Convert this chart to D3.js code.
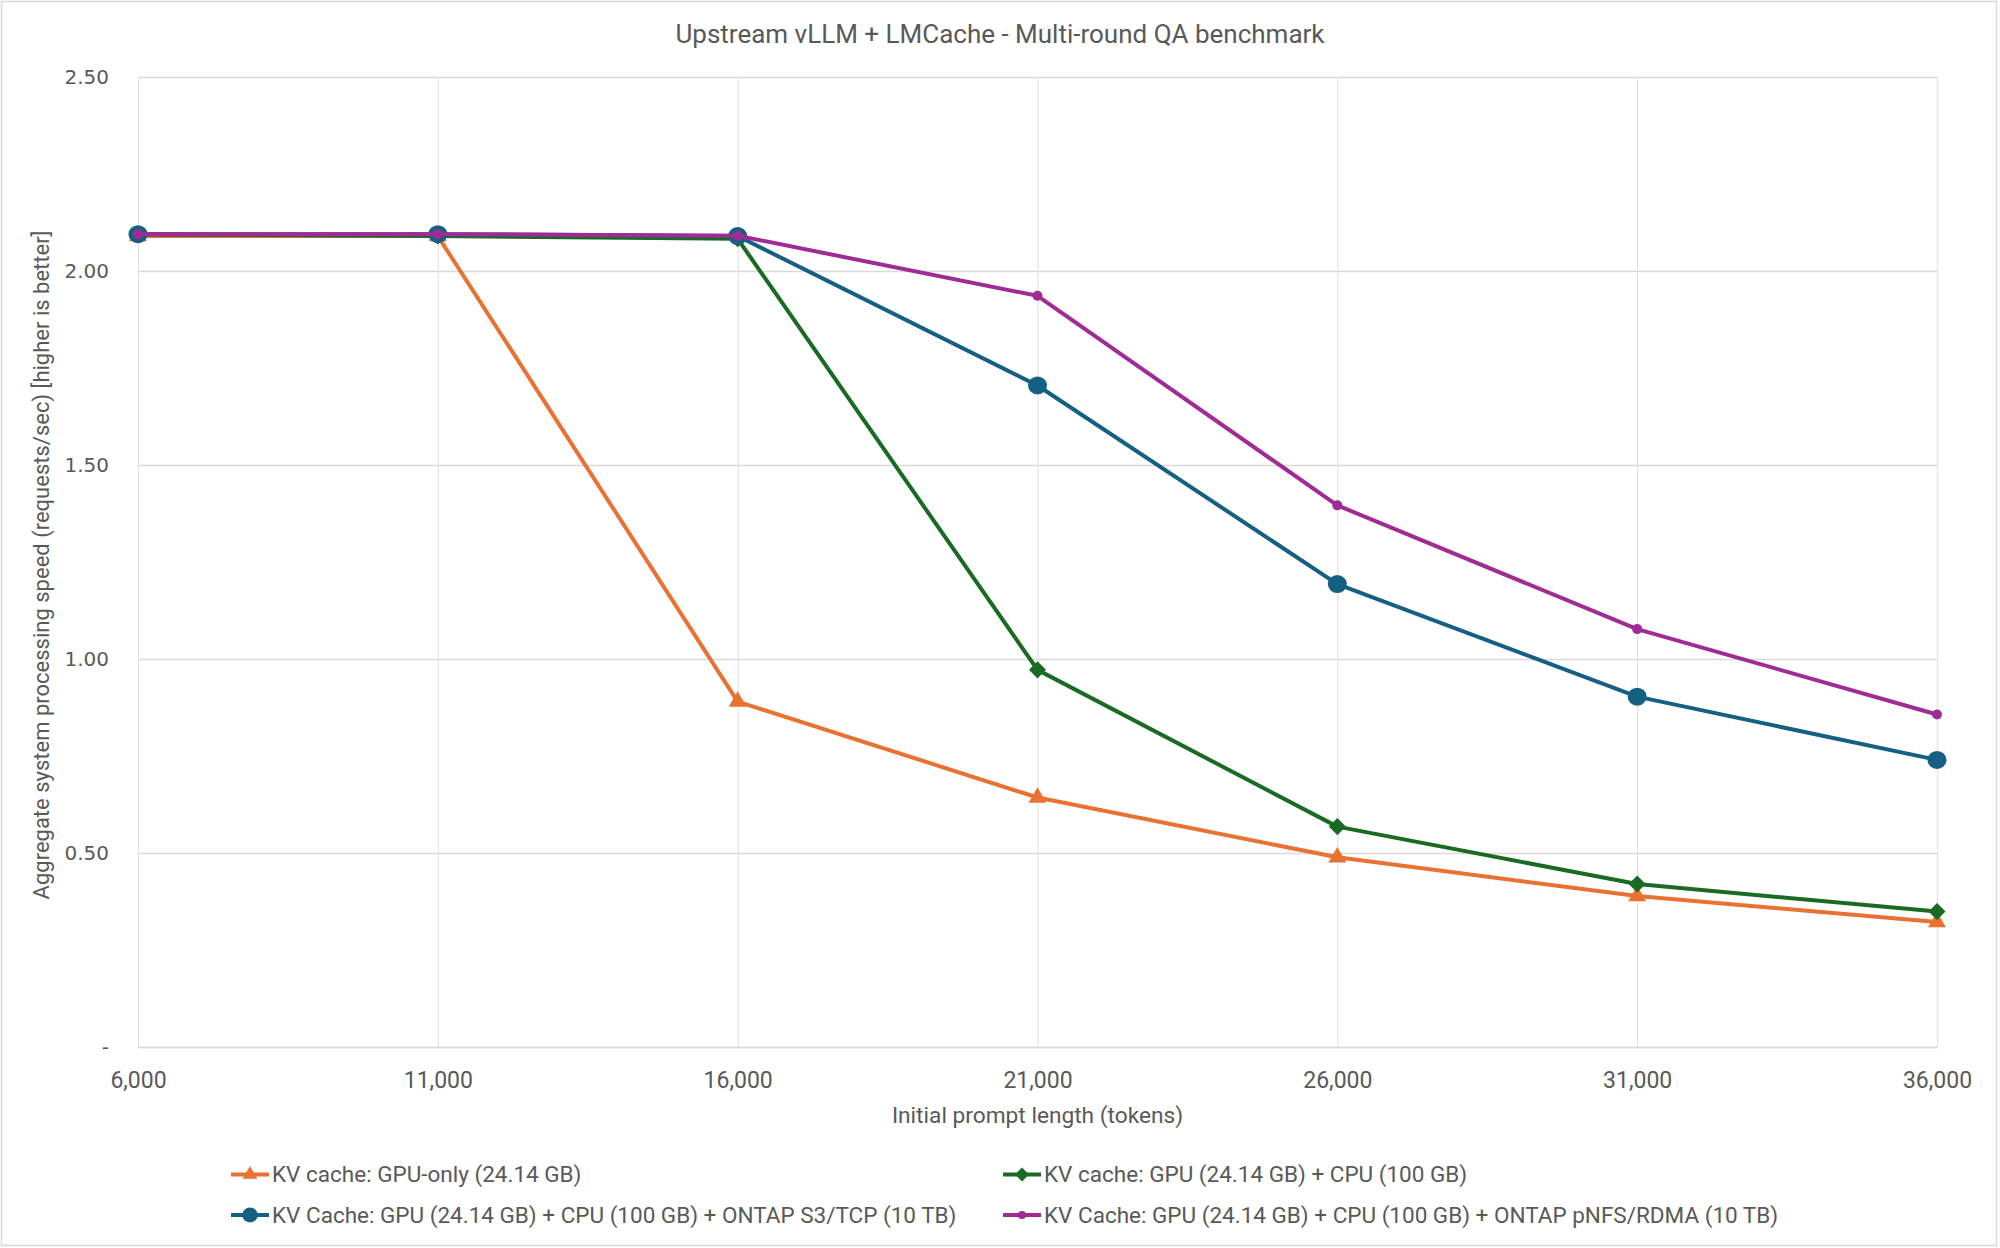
<!DOCTYPE html>
<html lang="en">
<head>
    <meta charset="utf-8">
    <script src="https://cdn.jsdelivr.net/npm/d3@7/dist/d3.min.js"></script>
    <style>
        body { margin: 0; background: #fff; }
    </style>
</head>
<body>

<script>
    var w = 2000;
    var h = 1248;

    // chart data
    var promptLengths = [6000, 11000, 16000, 21000, 26000, 31000, 36000];
    var gpuOnly   = [2.090, 2.090, 0.890, 0.643, 0.489, 0.389, 0.322];
    var gpuCpu    = [2.095, 2.090, 2.083, 0.972, 0.568, 0.420, 0.349];
    var gpuCpuS3  = [2.095, 2.095, 2.090, 1.705, 1.193, 0.903, 0.740];
    var gpuCpuNfs = [2.095, 2.095, 2.091, 1.936, 1.396, 1.077, 0.857];
    var yTicks = [0, 0.5, 1.0, 1.5, 2.0, 2.5];

    var seriesNames = [
        'KV cache: GPU-only (24.14 GB)',
        'KV cache: GPU (24.14 GB) + CPU (100 GB)',
        'KV Cache: GPU (24.14 GB) + CPU (100 GB) + ONTAP S3/TCP (10 TB)',
        'KV Cache: GPU (24.14 GB) + CPU (100 GB) + ONTAP pNFS/RDMA (10 TB)'
    ];

    var series = [
        {name: seriesNames[0], values: gpuOnly,   color: '#E97132', marker: 'triangle'},
        {name: seriesNames[1], values: gpuCpu,    color: '#196B24', marker: 'diamond'},
        {name: seriesNames[2], values: gpuCpuS3,  color: '#156082', marker: 'circle'},
        {name: seriesNames[3], values: gpuCpuNfs, color: '#A02B93', marker: 'dot'}
    ];

    var textColor = '#595959';
    var narrow = 'Roboto, "Liberation Sans", sans-serif';

    var margin = {top: 77, right: 63, bottom: 201, left: 138};
    var pw = w - margin.left - margin.right;
    var ph = h - margin.top - margin.bottom;

    var svg = d3.select('body').append('svg')
        .attr('width', w)
        .attr('height', h);

    // outer chart border
    svg.append('rect')
        .attr('x', 1.5).attr('y', 1.5)
        .attr('width', w - 5).attr('height', h - 4)
        .attr('fill', '#fff')
        .attr('stroke', '#D9D9D9')
        .attr('stroke-width', 1.5);

    var x = d3.scaleLinear().domain([6000, 36000]).range([0, pw]);
    var y = d3.scaleLinear().domain([0, 2.5]).range([ph, 0]);

    var g = svg.append('g').attr('transform', 'translate(' + margin.left + ',' + margin.top + ')');

    // gridlines
    g.append('g')
        .attr('class', 'grid-y')
        .call(d3.axisLeft(y).tickValues(yTicks).tickSize(-pw).tickFormat(''))
        .call(function(s) { s.select('.domain').remove(); })
        .selectAll('line')
        .attr('stroke', '#D9D9D9')
        .attr('stroke-width', 1.5);

    g.append('g')
        .attr('class', 'grid-x')
        .attr('transform', 'translate(0,' + ph + ')')
        .call(d3.axisBottom(x).tickValues(promptLengths).tickSize(-ph).tickFormat(''))
        .call(function(s) { s.select('.domain').remove(); })
        .selectAll('line')
        .attr('stroke', '#E3E3E3')
        .attr('stroke-width', 1.2);

    // x axis
    var xAxis = g.append('g')
        .attr('transform', 'translate(0,' + ph + ')')
        .call(d3.axisBottom(x).tickValues(promptLengths).tickSize(0).tickFormat(d3.format(',')));
    xAxis.select('.domain').attr('stroke', '#D9D9D9').attr('stroke-width', 1.5);
    xAxis.selectAll('text')
        .attr('y', 33)
        .attr('dy', '0.35em')
        .attr('fill', textColor)
        .attr('font-family', narrow)
        .attr('font-size', '23px');

    // y axis
    var yAxis = g.append('g')
        .call(d3.axisLeft(y).tickValues(yTicks).tickSize(0).tickPadding(29)
            .tickFormat(function(d) { return d === 0 ? '-' : d.toFixed(2); }));
    yAxis.select('.domain').remove();
    yAxis.selectAll('text')
        .attr('fill', textColor)
        .attr('font-family', '"DejaVu Sans", Verdana, sans-serif')
        .attr('font-size', '20px');

    // lines
    var lineFun = d3.line()
        .x(function(d, i) { return x(promptLengths[i]); })
        .y(function(d) { return y(d); });

    function drawMarker(sel, type, color, scale) {
        scale = scale || 1;
        if (type === 'triangle') {
            sel.append('path')
                .attr('d', d3.symbol().type(d3.symbolTriangle).size(140 * scale * scale)())
                .attr('fill', color);
        } else if (type === 'diamond') {
            sel.append('path')
                .attr('d', d3.symbol().type(d3.symbolSquare).size(145 * scale * scale)())
                .attr('transform', 'rotate(45)')
                .attr('fill', color);
        } else if (type === 'circle') {
            sel.append('ellipse')
                .attr('rx', 9.5 * scale).attr('ry', 9 * scale)
                .attr('fill', color);
        } else {
            sel.append('circle')
                .attr('r', 5 * scale)
                .attr('fill', color);
        }
    }

    series.forEach(function(s) {
        var sg = g.append('g');
        sg.append('path')
            .attr('d', lineFun(s.values))
            .attr('fill', 'none')
            .attr('stroke', s.color)
            .attr('stroke-width', 4)
            .attr('stroke-linejoin', 'round');

        sg.selectAll('g.pt')
            .data(s.values)
            .enter()
            .append('g')
            .attr('class', 'pt')
            .attr('transform', function(d, i) { return 'translate(' + x(promptLengths[i]) + ',' + y(d) + ')'; })
            .each(function() { drawMarker(d3.select(this), s.marker, s.color); });
    });

    // title
    svg.append('text')
        .attr('x', 1000)
        .attr('y', 34)
        .attr('dy', '0.35em')
        .attr('text-anchor', 'middle')
        .attr('fill', textColor)
        .attr('font-family', narrow)
        .attr('font-size', '26px')
        .text('Upstream vLLM + LMCache - Multi-round QA benchmark');

    // axis titles
    svg.append('text')
        .attr('x', margin.left + pw / 2)
        .attr('y', 1115)
        .attr('dy', '0.35em')
        .attr('text-anchor', 'middle')
        .attr('fill', textColor)
        .attr('font-family', narrow)
        .attr('font-size', '22.7px')
        .text('Initial prompt length (tokens)');

    svg.append('text')
        .attr('transform', 'translate(41,' + (margin.top + ph / 2 + 3) + ') rotate(-90)')
        .attr('dy', '0.35em')
        .attr('text-anchor', 'middle')
        .attr('fill', textColor)
        .attr('font-family', narrow)
        .attr('font-size', '22px')
        .text('Aggregate system processing speed (requests/sec) [higher is better]');

    // legend, two columns by two rows
    var legendCols = [231, 1003];
    var legendRows = [1174.5, 1215];

    var legend = svg.selectAll('g.legend')
        .data(series)
        .enter()
        .append('g')
        .attr('class', 'legend')
        .attr('transform', function(d, i) {
            return 'translate(' + legendCols[i % 2] + ',' + legendRows[Math.floor(i / 2)] + ')';
        });

    legend.append('line')
        .attr('x1', 0).attr('x2', 38)
        .attr('stroke', function(d) { return d.color; })
        .attr('stroke-width', 4);

    legend.append('g')
        .attr('transform', 'translate(19,0)')
        .each(function(d) { drawMarker(d3.select(this), d.marker, d.color, 0.82); });

    legend.append('text')
        .attr('x', 41)
        .attr('dy', '0.35em')
        .attr('fill', textColor)
        .attr('font-family', narrow)
        .attr('font-size', '22.5px')
        .text(function(d) { return d.name; });

</script>
</body>
</html>
